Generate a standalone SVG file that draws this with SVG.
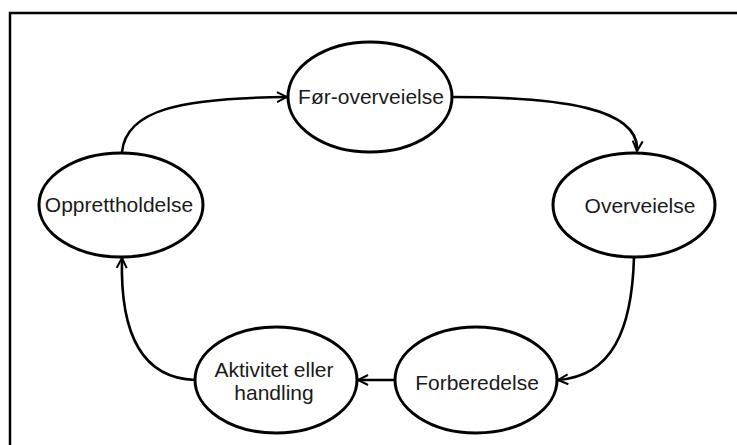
<svg xmlns="http://www.w3.org/2000/svg" width="737" height="445" viewBox="0 0 737 445">
<style>
.node ellipse{fill:#fff;stroke:#000;stroke-width:3}
.node text{font-family:"Liberation Sans",Arial,sans-serif;font-size:21px;fill:#1a1a1a;text-anchor:middle}
.edge{fill:none;stroke:#000;stroke-width:2.6;marker-end:url(#arr)}
</style>
<defs>
<marker id="arr" viewBox="0 0 12 12" refX="11" refY="6" markerWidth="12" markerHeight="12" markerUnits="userSpaceOnUse" orient="auto">
<path d="M1,1 L11,6 L1,11" fill="none" stroke="#000" stroke-width="2"/>
</marker>
</defs>
<rect x="10" y="13" width="740" height="445" fill="#fff" stroke="#000" stroke-width="2.5"/>
<g id="connectors">
<path class="edge" d="M122,152 C126,110 180,98 287,97"/>
<path class="edge" d="M452,97 C560,97 640,108 637,151"/>
<path class="edge" d="M634,257 C632,330 612,376 558,380"/>
<path class="edge" d="M395,380 L358,380"/>
<path class="edge" d="M195,380 C140,378 120,330 122,258"/>
</g>
<g id="n1" class="node"><ellipse cx="370" cy="97" rx="82" ry="55"/><text x="371" y="104">Før-overveielse</text></g>
<g id="n2" class="node"><ellipse cx="634" cy="205" rx="81" ry="52"/><text x="640" y="213">Overveielse</text></g>
<g id="n3" class="node"><ellipse cx="476" cy="380" rx="81" ry="53"/><text x="477" y="390">Forberedelse</text></g>
<g id="n4" class="node"><ellipse cx="276" cy="380" rx="81" ry="53"/><text x="274" y="377">Aktivitet eller</text><text x="274" y="400">handling</text></g>
<g id="n5" class="node"><ellipse cx="121" cy="205" rx="82" ry="52"/><text x="119" y="212">Opprettholdelse</text></g>
</svg>
